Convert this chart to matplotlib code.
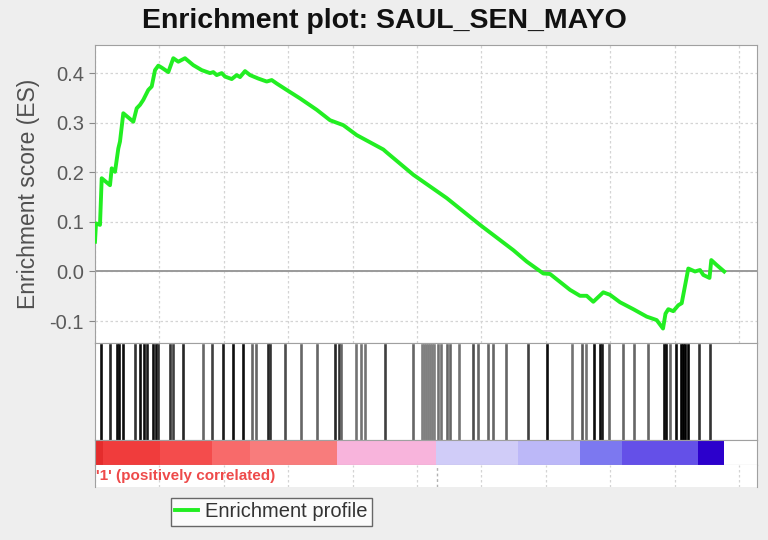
import matplotlib.pyplot as plt
import numpy as np

plt.rcParams['font.family'] = ['Liberation Sans', 'DejaVu Sans']

# ranked list size and x range (gene rank)
n_genes = 19540
x_max = 20560

# running enrichment score (rank, ES)
es_rank = [0, 31, 155, 208, 466, 519, 621, 724, 776, 879, 1190, 1295, 1398, 1500,
           1655, 1761, 1864, 1966, 2072, 2277, 2432, 2587, 2795, 3053, 3314, 3572,
           3674, 3780, 3935, 4038, 4246, 4401, 4504, 4659, 4814, 5072, 5333, 5488,
           5643, 5954, 6367, 6886, 7299, 7712, 8128, 8954, 9060, 9886, 10923, 11957,
           12992, 13408, 13923, 14131, 14752, 15062, 15270, 15475, 15786, 15994,
           16305, 16718, 17134, 17445, 17640, 17718, 17805, 17960, 18116, 18221,
           18426, 18634, 18789, 18892, 19084, 19140, 19308, 19540]
es_value = [0.060, 0.097, 0.094, 0.188, 0.174, 0.208, 0.201, 0.248, 0.262, 0.319,
            0.302, 0.329, 0.336, 0.346, 0.366, 0.373, 0.406, 0.415, 0.411, 0.402,
            0.430, 0.423, 0.430, 0.416, 0.406, 0.400, 0.402, 0.396, 0.400, 0.393,
            0.388, 0.396, 0.392, 0.404, 0.396, 0.389, 0.383, 0.386, 0.379, 0.366,
            0.349, 0.326, 0.305, 0.295, 0.275, 0.246, 0.240, 0.195, 0.148, 0.094,
            0.043, 0.020, -0.004, -0.005, -0.037, -0.049, -0.049, -0.061, -0.042,
            -0.047, -0.062, -0.076, -0.091, -0.098, -0.115, -0.085, -0.076, -0.080,
            -0.068, -0.064, 0.006, 0.000, 0.003, -0.007, -0.013, 0.023, 0.013, 0.000]

# gene set hits (rank) and how dark each bar looks (0 = black)
hit_rank = [177, 466, 674, 755, 879, 1227, 1382, 1522, 1615, 1786, 1895, 1972, 2314,
            2423, 2733, 3364, 3634, 3966, 4296, 4597, 4861, 5001, 5358, 5436, 5901,
            6398, 6905, 7439, 7563, 7641, 8116, 8256, 8386, 8992, 9877, 10157, 10219,
            10281, 10343, 10405, 10467, 10529, 10638, 10747, 10933, 11026, 11315,
            11750, 11880, 12216, 12371, 12766, 13458, 14030, 14800, 15111, 15244,
            15499, 15686, 15748, 15965, 16391, 16748, 17186, 17667, 17745, 17860,
            18055, 18186, 18263, 18325, 18403, 18769, 19101]
hit_shade = [0.05, 0.15, 0.05, 0.05, 0.05, 0.2, 0.05, 0.05, 0.1, 0.05, 0.05, 0.2, 0.2,
             0.25, 0.15, 0.4, 0.25, 0.1, 0.05, 0.05, 0.4, 0.4, 0.15, 0.2, 0.3,
             0.4, 0.4, 0.15, 0.2, 0.4, 0.45, 0.45, 0.45, 0.25, 0.4, 0.5, 0.5,
             0.5, 0.5, 0.5, 0.5, 0.5, 0.45, 0.45, 0.4, 0.4, 0.45,
             0.3, 0.4, 0.4, 0.4, 0.4, 0.25, 0.05, 0.45, 0.35, 0.45,
             0.05, 0.05, 0.1, 0.4, 0.4, 0.4, 0.4, 0.05, 0.05, 0.4,
             0.05, 0.0, 0.0, 0.0, 0.0, 0.2, 0.2]

# ranked list colour bar blocks
bar_edges = [0, 248, 2019, 3634, 4814, 7517, 10591, 13138, 15064, 16368, 18729, n_genes]
bar_colors = ['#e42c2c', '#f03c3c', '#f44c4c', '#f86a6a', '#f87c7c', '#f8b4dc',
              '#d0ccf8', '#bcb8f8', '#7c78f0', '#6450e8', '#2c00cc']

zero_cross = 10607
y_ticks = [-0.1, 0.0, 0.1, 0.2, 0.3, 0.4]

spine_col = '#a0a0a0'
grid_kw = dict(color='#d4d4d4', linestyle=(0, (2, 2)), linewidth=0.9)

fig = plt.figure(figsize=(7.68, 5.4), dpi=100, facecolor='#eeeeee')

# =============================================================================
# enrichment score panel
# =============================================================================
ax_es = fig.add_axes([0.1237, 0.3648, 0.862, 0.5519])
ax_es.set_xlim(0, x_max)
ax_es.set_ylim(-0.1442, 0.4567)
ax_es.set_xticks(np.arange(0, x_max, 2000))
ax_es.set_xticklabels([])
ax_es.tick_params(axis='x', length=0)
ax_es.set_yticks(y_ticks)
ax_es.set_yticklabels(['%.1f' % v for v in y_ticks])
ax_es.tick_params(axis='y', labelsize=14.5, labelcolor='#5a5a5a', color='#888888',
                  length=4, pad=4)
ax_es.grid(True, **grid_kw)
ax_es.axhline(0, color='#9a9a9a', linewidth=1.4, zorder=2)
line, = ax_es.plot(es_rank, es_value, color='#22ee22', linewidth=2.8, zorder=3,
                   label='Enrichment profile')
ax_es.set_ylabel('Enrichment score (ES)', fontsize=16.5, color='#505050', labelpad=7)
for s in ax_es.spines.values():
    s.set_color(spine_col)

# =============================================================================
# hits panel
# =============================================================================
ax_hit = fig.add_axes([0.1237, 0.1852, 0.862, 0.1796])
ax_hit.set_xlim(0, x_max)
ax_hit.set_ylim(0, 1)
for r, sh in zip(hit_rank, hit_shade):
    ax_hit.axvline(r, ymin=0, ymax=0.98, color=str(sh), linewidth=1.9)
ax_hit.set_xticks([])
ax_hit.set_yticks([])
for s in ax_hit.spines.values():
    s.set_color(spine_col)

# =============================================================================
# ranked list colour bar
# =============================================================================
ax_bar = fig.add_axes([0.1237, 0.1389, 0.862, 0.0463])
ax_bar.set_xlim(0, x_max)
ax_bar.set_ylim(0, 1)
for i in range(len(bar_colors)):
    ax_bar.axvspan(bar_edges[i], bar_edges[i + 1], color=bar_colors[i], linewidth=0)
ax_bar.set_xticks([])
ax_bar.set_yticks([])
for s in ax_bar.spines.values():
    s.set_color(spine_col)

# =============================================================================
# top of the ranked list metric panel
# =============================================================================
ax_met = fig.add_axes([0.1237, 0.0981, 0.862, 0.0407])
ax_met.set_xlim(0, x_max)
ax_met.set_ylim(0, 1)
ax_met.set_xticks(np.arange(0, x_max, 2000))
ax_met.set_xticklabels([])
ax_met.set_yticks([])
ax_met.tick_params(axis='x', length=0)
ax_met.grid(True, axis='x', **grid_kw)
ax_met.axvline(zero_cross, color='#b0b0b0', linestyle=(0, (2, 2)), linewidth=1)
ax_met.text(0.002, 0.5, "'1' (positively correlated)", transform=ax_met.transAxes,
            color='#ee4a4a', fontsize=11, fontweight='bold', va='center', ha='left')
for s in ax_met.spines.values():
    s.set_color(spine_col)
ax_met.spines['bottom'].set_visible(False)
ax_met.spines['top'].set_visible(False)

fig.text(0.5, 0.962, 'Enrichment plot: SAUL_SEN_MAYO', fontsize=20.5,
         fontweight='bold', color='#111111', ha='center', va='center')

leg = fig.legend(handles=[line], loc='center left', bbox_to_anchor=(0.2227, 0.0519),
                 fontsize=14.5, frameon=True, fancybox=False, borderpad=0.2,
                 handlelength=1.15, handletextpad=0.35, borderaxespad=0)
leg.get_frame().set_edgecolor('#444444')
leg.get_frame().set_linewidth(1.0)
for t in leg.get_texts():
    t.set_color('#333333')

fig.savefig('out.png', dpi=100, facecolor=fig.get_facecolor())
